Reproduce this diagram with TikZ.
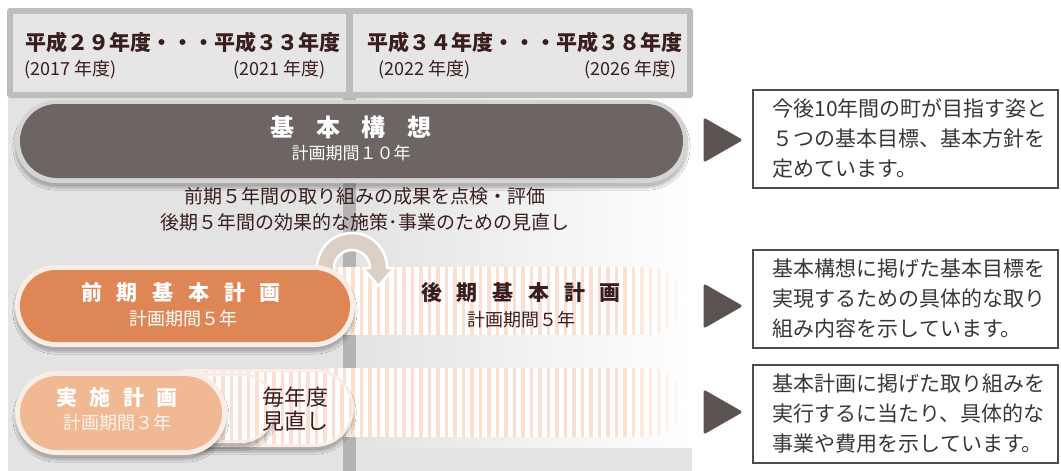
\documentclass[tikz,border=0pt]{standalone}
\usepackage{fontspec}
\setmainfont{Noto Sans CJK JP}
\usetikzlibrary{shadows.blur}
\definecolor{hdrborder}{HTML}{BDBDBD}
\definecolor{hdrfill}{HTML}{E6E6E6}
\definecolor{panel}{HTML}{E3E3E3}
\definecolor{barcol}{HTML}{B4B4B4}
\definecolor{darkpill}{HTML}{6C6563}
\definecolor{ringgray}{HTML}{D6D4D3}
\definecolor{orangepill}{HTML}{DF8657}
\definecolor{salmonpill}{HTML}{F0B893}
\definecolor{cream}{HTML}{F8EEE6}
\definecolor{stripecol}{HTML}{FBE0D1}
\definecolor{arcol}{HTML}{DCCFC5}
\definecolor{txtdark}{HTML}{3A1E1E}
\definecolor{tricol}{HTML}{5A5351}
\definecolor{boxtxt}{HTML}{383838}
\tikzset{
  hdr/.style={font=\fontsize{21}{21}\selectfont\bfseries, text=txtdark, inner sep=0pt},
  hdrsub/.style={font=\fontsize{18}{18}\selectfont, text=txtdark, inner sep=0pt},
  midtxt/.style={font=\fontsize{19}{19}\selectfont, text=txtdark, inner sep=0pt},
  pilltitle/.style={font=\fontsize{21}{21}\selectfont\bfseries, inner sep=0pt},
  pillsub/.style={font=\fontsize{18}{18}\selectfont, inner sep=0pt},
  descbox/.style={draw=black!70, line width=1.1pt, fill=white, minimum width=305pt, minimum height=98pt, inner sep=0pt},
  desctxt/.style={font=\fontsize{21}{30}\selectfont, text=boxtxt, align=left, inner sep=0pt},
  tri/.style={fill=tricol, draw=tricol, line width=3pt, line join=round},
  pshadow/.style={blur shadow={shadow xshift=0pt, shadow yshift=-5pt, shadow opacity=25, shadow blur steps=6}}
}
\newcommand{\stripes}[3]{% x-start, y-top, height
  \foreach \ii in {0,...,48} {
    \pgfmathsetmacro\xx{#1+8.5*\ii}
    \pgfmathsetmacro\op{min(1,max(0.1,(690-\xx)/70))}
    \fill[stripecol, opacity=\op] (\xx,#2) rectangle ++(3.5,#3);
  }}
\begin{document}
\begin{tikzpicture}[x=1pt,y=-1pt]
\useasboundingbox (0,0) rectangle (1061,471);
\fill[white] (0,0) rectangle (1061,471);
% panel background
\fill[panel] (8,98) rectangle (350,471);
\shade[left color=panel, right color=white] (350,98) rectangle (693,448);
\fill[panel] (350,448) rectangle (692,471);
\fill[barcol] (343,98) rectangle (356,471);
% header
\fill[hdrborder, rounded corners=3pt] (7,8) rectangle (693,98);
\fill[hdrfill] (13,14) rectangle (346,92);
\fill[hdrfill] (353,14) rectangle (687,92);
\node[hdr, anchor=west] (h1) at (25,42) {平成２９年度・・・平成３３年度};
\node[hdrsub, anchor=west] (h1a) at (24,70) {(2017 年度)};
\node[hdrsub, anchor=east] (h1b) at (326,70) {(2021 年度)};
\node[hdr, anchor=west] (h2) at (367,42) {平成３４年度・・・平成３８年度};
\node[hdrsub, anchor=west] (h2a) at (378,70) {(2022 年度)};
\node[hdrsub, anchor=east] (h2b) at (677,70) {(2026 年度)};
% kihon koso pill
\fill[ringgray, pshadow, rounded corners=41.5pt] (15,100) rectangle (688,183);
\fill[darkpill, rounded corners=37pt] (20,104) rectangle (683,178);
\node[font=\fontsize{24}{24}\selectfont\bfseries, text=white, inner sep=0pt] (kk) at (351,127) {基\hspace{0.9em}本\hspace{0.9em}構\hspace{0.9em}想};
\node[font=\fontsize{17}{17}\selectfont, text=white, inner sep=0pt] (kk2) at (351,153) {計画期間１０年};
% middle text
\node[midtxt] (m1) at (365,196) {前期５年間の取り組みの成果を点検・評価};
\node[midtxt] (m2) at (365,222) {後期５年間の効果的な施策･事業のための見直し};
% kouki band
\begin{scope}
  \clip[rounded corners=34pt] (300,267) rectangle (683,335);
  \fill[white] (300,267) rectangle (683,335);
  \stripes{300}{267}{68}
\end{scope}
% cycle arrow
\fill[arcol, draw=white, line width=2.5pt, line join=round]
  (317,295) -- (317,268) arc[start angle=180, end angle=360, radius=35]
  -- (394,268) -- (378.5,286) -- (363,268) -- (370,268)
  arc[start angle=360, end angle=180, radius=18] -- (334,295) -- cycle;
\node[pilltitle, text=txtdark] (kk3) at (521,293) {後\hspace{0.7em}期\hspace{0.7em}基\hspace{0.7em}本\hspace{0.7em}計\hspace{0.7em}画};
\node[pillsub, text=txtdark] (kk4) at (521,320) {計画期間５年};
% zenki pill
\fill[cream, pshadow, rounded corners=41pt] (15,265) rectangle (355,347);
\fill[orangepill, rounded corners=36pt] (20,270) rectangle (350,342);
\node[pilltitle, text=white] (zk) at (181,293) {前\hspace{0.7em}期\hspace{0.7em}基\hspace{0.7em}本\hspace{0.7em}計\hspace{0.7em}画};
\node[pillsub, text=white] (zk2) at (183,319) {計画期間５年};
% bottom band C
\begin{scope}
  \clip[rounded corners=34.5pt] (300,368) rectangle (683,437);
  \fill[white] (300,368) rectangle (683,437);
  \stripes{300}{368}{69}
\end{scope}
% band B
\fill[cream, pshadow, rounded corners=39pt] (150,369) rectangle (354,447);
\begin{scope}
  \clip[rounded corners=36pt] (153,372) rectangle (351,444);
  \fill[white] (153,372) rectangle (351,444);
  \stripes{153}{372}{72}
\end{scope}
% band A
\fill[cream, pshadow, rounded corners=35pt] (150,373) rectangle (276,443);
\begin{scope}
  \clip[rounded corners=32pt] (153,376) rectangle (273,440);
  \fill[white] (153,376) rectangle (273,440);
  \stripes{153}{376}{64}
\end{scope}
\node[font=\fontsize{22}{24}\selectfont, text=txtdark, align=center, inner sep=0pt] (mn) at (295,409) {毎年度\\見直し};
% jisshi pill
\fill[cream, pshadow, rounded corners=42pt] (15,371) rectangle (227,455);
\fill[salmonpill, rounded corners=37pt] (20,376) rectangle (222,450);
\node[pilltitle, text=white] (js) at (117,398) {実\hspace{0.6em}施\hspace{0.6em}計\hspace{0.6em}画};
\node[pillsub, text=white!85!salmonpill] (js2) at (117,423) {計画期間３年};
% triangles
\fill[tri] (705,120) -- (740,140) -- (705,160) -- cycle;
\fill[tri] (705,286) -- (740,306) -- (705,326) -- cycle;
\fill[tri] (705,392) -- (740,412) -- (705,432) -- cycle;
% description boxes
\node[descbox] (d1) at (905.5,139) {};
\node[desctxt, anchor=west] (t1) at ([xshift=20pt]d1.west) {今後10年間の町が目指す姿と\\５つの基本目標、基本方針を\\定めています。};
\node[descbox] (d2) at (905.5,299) {};
\node[desctxt, anchor=west] (t2) at ([xshift=20pt]d2.west) {基本構想に掲げた基本目標を\\実現するための具体的な取り\\組み内容を示しています。};
\node[descbox] (d3) at (905.5,414) {};
\node[desctxt, anchor=west] (t3) at ([xshift=20pt]d3.west) {基本計画に掲げた取り組みを\\実行するに当たり、具体的な\\事業や費用を示しています。};
\end{tikzpicture}
\end{document}
